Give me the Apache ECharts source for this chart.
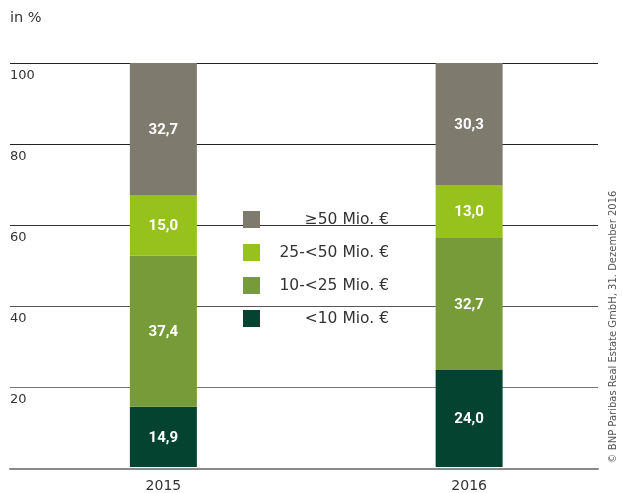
<!DOCTYPE html>
<html>
<head>
<meta charset="utf-8">
<script src="https://cdn.jsdelivr.net/npm/echarts@6/dist/echarts.min.js"></script>
<style>
html,body{margin:0;padding:0;background:#fff;}
#chart{width:622px;height:493px;}
</style>
</head>
<body>
<div id="chart"></div>
<script>
var categories = ['2015', '2016'];
var seriesNames = ['<10 Mio. €', '10-<25 Mio. €', '25-<50 Mio. €', '≥50 Mio. €'];
var valuesLt10 = [14.9, 24.0];
var values10to25 = [37.4, 32.7];
var values25to50 = [15.0, 13.0];
var valuesGe50 = [32.7, 30.3];
var yTicks = [0, 20, 40, 60, 80, 100];
var legendOrder = ['≥50 Mio. €', '25-<50 Mio. €', '10-<25 Mio. €', '<10 Mio. €'];

var colors = ['#03432F', '#779B38', '#97C21E', '#7E7B6E'];
var allValues = [valuesLt10, values10to25, values25to50, valuesGe50];
var FONT = 'DejaVu Sans';

var chart = echarts.init(document.getElementById('chart'), null, {renderer: 'canvas'});

var series = seriesNames.map(function (name, i) {
  return {
    name: name,
    type: 'bar',
    stack: 'total',
    xAxisIndex: 0,
    yAxisIndex: 0,
    barWidth: 67,
    itemStyle: {color: colors[i]},
    label: {
      show: true,
      position: 'inside',
      color: '#fff',
      fontFamily: 'Roboto',
      fontWeight: 'bold',
      fontSize: 15,
      offset: [0, 1],
      formatter: function (p) { return p.value.toFixed(1).replace('.', ','); }
    },
    emphasis: {disabled: true},
    data: allValues[i]
  };
});

chart.setOption({
  animation: false,
  color: colors,
  grid: [
    {left: 10.5, width: 612, top: 63, bottom: 24.5, containLabel: false},
    {left: 10, right: 24, top: 63, bottom: 24.5, containLabel: false}
  ],
  xAxis: [
    {
      type: 'category', gridIndex: 0, data: categories,
      axisLine: {show: false}, axisTick: {show: false},
      axisLabel: {color: '#333', fontFamily: FONT, fontSize: 14, margin: 12}
    },
    {
      type: 'value', gridIndex: 1, min: 0, max: 1,
      axisLine: {show: true, lineStyle: {color: '#8a8a8a', width: 2}},
      axisTick: {show: false}, axisLabel: {show: false}, splitLine: {show: false}
    }
  ],
  yAxis: [
    {
      type: 'value', gridIndex: 0, min: 0, max: 100, interval: 20,
      axisLine: {show: false}, axisTick: {show: false}, axisLabel: {show: false},
      splitLine: {show: false}
    },
    {
      type: 'value', gridIndex: 1, min: yTicks[0], max: yTicks[yTicks.length - 1], interval: 20,
      axisLine: {show: false}, axisTick: {show: false},
      axisLabel: {
        inside: true, margin: 0, align: 'left', verticalAlign: 'top',
        padding: [6, 0, 0, 0],
        color: '#333', fontFamily: FONT, fontSize: 13,
        formatter: function (v) { return v === 0 ? '' : String(v); }
      },
      splitLine: {show: true, lineStyle: {color: ['#8a8a8a', '#777', '#555', '#333', '#222', '#222'], width: 1}}
    }
  ],
  legend: {
    orient: 'vertical',
    left: 243,
    top: 211,
    padding: 0,
    itemWidth: 17,
    itemHeight: 17,
    itemGap: 16,
    icon: 'rect',
    data: legendOrder,
    selectedMode: false,
    formatter: function (name) { return '{t|' + name + '}'; },
    textStyle: {
      rich: {
        t: {width: 124, align: 'right', lineHeight: 17, fontFamily: FONT, fontSize: 15.5, color: '#333'}
      }
    }
  },
  graphic: [
    {
      type: 'text', left: 10, top: 11,
      style: {text: 'in %', font: '14.5px "DejaVu Sans"', fill: '#333'}
    },
    {
      type: 'text', x: 613, y: 327, rotation: Math.PI / 2,
      style: {
        text: '© BNP Paribas Real Estate GmbH, 31. Dezember 2016',
        font: '10px "DejaVu Sans"', fill: '#555',
        align: 'center', verticalAlign: 'middle',
        textAlign: 'center', textVerticalAlign: 'middle'
      }
    }
  ],
  series: series
});
</script>
</body>
</html>
